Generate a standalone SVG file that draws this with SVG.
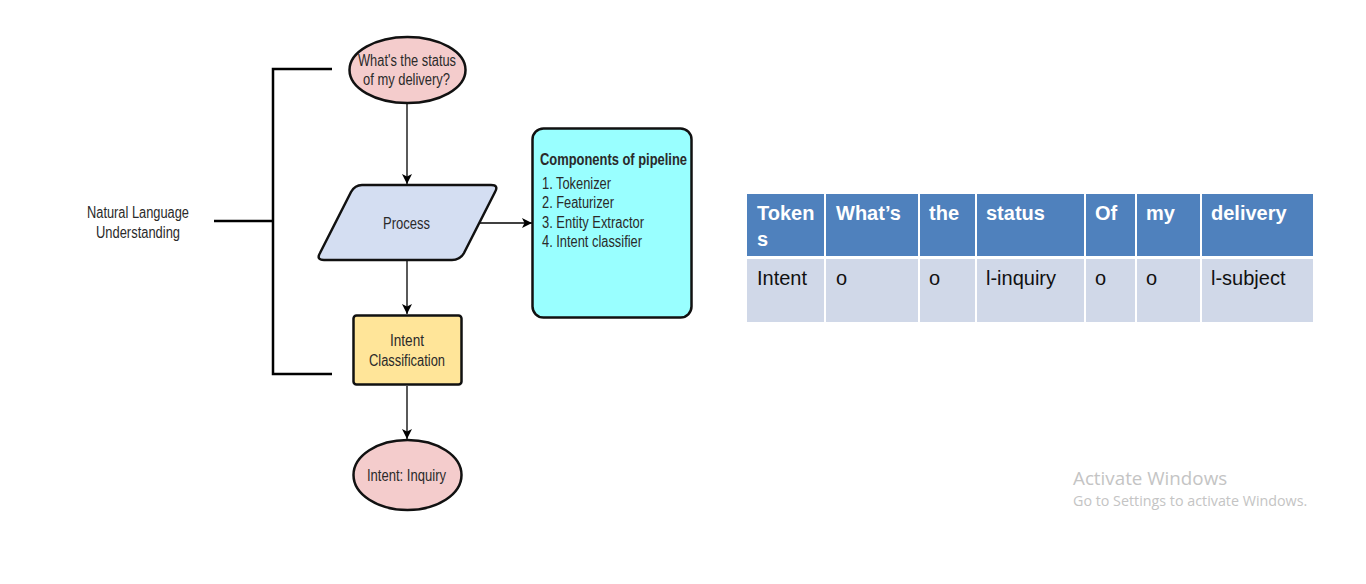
<svg xmlns="http://www.w3.org/2000/svg" width="1366" height="584" viewBox="0 0 1366 584">
<defs>
<marker id="arr" viewBox="0 0 10 10" refX="10" refY="5" markerWidth="10" markerHeight="10" markerUnits="userSpaceOnUse" orient="auto">
<path d="M0,0 L10,5 L0,10 L2.5,5 Z" fill="#000"/>
</marker>
</defs>
<style>
.fc{font-family:"Liberation Sans",Arial,sans-serif;font-size:16px;fill:#2a2a2a;}
.shape{stroke:#111;stroke-width:2.5;}
.conn{stroke:#000;stroke-width:1.3;fill:none;}
.br{stroke:#000;stroke-width:2.5;fill:none;}
.th{font-family:"Liberation Sans",Arial,sans-serif;font-size:20px;font-weight:bold;fill:#fff;}
.td{font-family:"Liberation Sans",Arial,sans-serif;font-size:20px;fill:#111;}
.hd{fill:#4f81bd;}
.bd{fill:#d0d8e8;}
.wm{font-family:"Open Sans","Noto Sans",sans-serif;fill:#c4c4c4;}
</style>
<rect width="1366" height="584" fill="#fff"/>

<g id="bracket">
<path class="br" d="M332,69 H273 V374 H332 M214,221 H273"/>
</g>
<g id="nlu">
<text class="fc" x="87" y="218" textLength="102" lengthAdjust="spacingAndGlyphs">Natural Language</text>
<text class="fc" x="96" y="238" textLength="84" lengthAdjust="spacingAndGlyphs">Understanding</text>
</g>

<g id="connectors">
<line class="conn" x1="407" y1="104" x2="407" y2="184" marker-end="url(#arr)"/>
<line class="conn" x1="480" y1="223" x2="532" y2="223" marker-end="url(#arr)"/>
<line class="conn" x1="407" y1="261" x2="407" y2="314" marker-end="url(#arr)"/>
<line class="conn" x1="407" y1="386" x2="407" y2="439" marker-end="url(#arr)"/>
</g>

<g id="question">
<ellipse class="shape" cx="407.5" cy="70" rx="58" ry="33" fill="#f4cccc"/>
<text class="fc" x="358" y="66" textLength="98" lengthAdjust="spacingAndGlyphs">What's the status</text>
<text class="fc" x="363" y="85" textLength="87" lengthAdjust="spacingAndGlyphs">of my delivery?</text>
</g>

<g id="process">
<path class="shape" d="M362,185 H491 Q499,185 495,192 L464,253 Q460,260 452,260 H324 Q316,260 320,253 L351,192 Q355,185 362,185 Z" fill="#d4def2"/>
<text class="fc" x="383" y="229" textLength="47" lengthAdjust="spacingAndGlyphs">Process</text>
</g>

<g id="pipeline">
<rect class="shape" x="532.5" y="128.5" width="159" height="189" rx="11" fill="#99ffff"/>
<text class="fc" x="540" y="165" font-weight="bold" textLength="147" lengthAdjust="spacingAndGlyphs">Components of pipeline</text>
<text class="fc" x="542" y="189" textLength="69" lengthAdjust="spacingAndGlyphs">1. Tokenizer</text>
<text class="fc" x="542" y="208" textLength="72" lengthAdjust="spacingAndGlyphs">2. Featurizer</text>
<text class="fc" x="542" y="228" textLength="102" lengthAdjust="spacingAndGlyphs">3. Entity Extractor</text>
<text class="fc" x="542" y="247" textLength="100" lengthAdjust="spacingAndGlyphs">4. Intent classifier</text>
</g>

<g id="intentclass">
<rect class="shape" x="353.5" y="315.5" width="108" height="69" rx="3" fill="#ffe599"/>
<text class="fc" x="390" y="346" textLength="34" lengthAdjust="spacingAndGlyphs">Intent</text>
<text class="fc" x="369" y="366" textLength="76" lengthAdjust="spacingAndGlyphs">Classification</text>
</g>

<g id="result">
<ellipse class="shape" cx="407.5" cy="475" rx="54" ry="35" fill="#f4cccc"/>
<text class="fc" x="367" y="481" textLength="79" lengthAdjust="spacingAndGlyphs">Intent: Inquiry</text>
</g>

<g id="table">
<rect class="hd" x="747" y="194" width="77" height="62"/>
<rect class="hd" x="826" y="194" width="92" height="62"/>
<rect class="hd" x="920" y="194" width="55" height="62"/>
<rect class="hd" x="977" y="194" width="107" height="62"/>
<rect class="hd" x="1086" y="194" width="49" height="62"/>
<rect class="hd" x="1137" y="194" width="63" height="62"/>
<rect class="hd" x="1202" y="194" width="111" height="62"/>
<rect class="bd" x="747" y="259" width="77" height="63"/>
<rect class="bd" x="826" y="259" width="92" height="63"/>
<rect class="bd" x="920" y="259" width="55" height="63"/>
<rect class="bd" x="977" y="259" width="107" height="63"/>
<rect class="bd" x="1086" y="259" width="49" height="63"/>
<rect class="bd" x="1137" y="259" width="63" height="63"/>
<rect class="bd" x="1202" y="259" width="111" height="63"/>
<text class="th" x="757" y="220">Token</text>
<text class="th" x="757" y="246">s</text>
<text class="th" x="836" y="220">What’s</text>
<text class="th" x="929" y="220">the</text>
<text class="th" x="986" y="220">status</text>
<text class="th" x="1095" y="220">Of</text>
<text class="th" x="1146" y="220">my</text>
<text class="th" x="1211" y="220">delivery</text>
<text class="td" x="757" y="285">Intent</text>
<text class="td" x="836" y="285">o</text>
<text class="td" x="929" y="285">o</text>
<text class="td" x="986" y="285">l-inquiry</text>
<text class="td" x="1095" y="285">o</text>
<text class="td" x="1146" y="285">o</text>
<text class="td" x="1211" y="285">l-subject</text>
</g>

<g id="watermark">
<text class="wm" x="1073" y="485" font-size="18.8px">Activate Windows</text>
<text class="wm" x="1073" y="506" font-size="14.3px">Go to Settings to activate Windows.</text>
</g>
</svg>
